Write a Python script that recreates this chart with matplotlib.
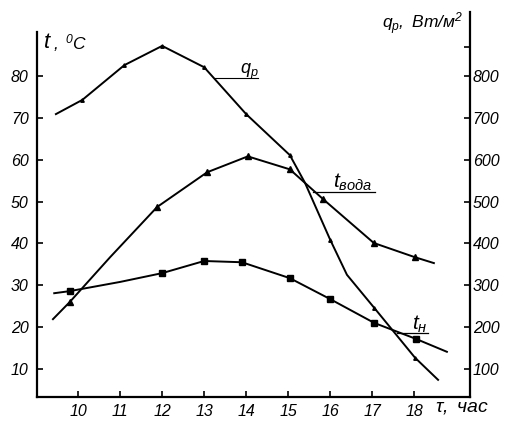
import matplotlib
matplotlib.use("Agg")
import matplotlib.pyplot as plt

plt.rcParams['font.family'] = ['Liberation Sans', 'DejaVu Sans']
plt.rcParams['mathtext.fontset'] = 'custom'
plt.rcParams['mathtext.it'] = 'Liberation Sans:italic'
plt.rcParams['mathtext.rm'] = 'Liberation Sans:italic'

# q_p, Вт/м2 (правая ось)
q_x = [9.47, 10.1, 11.1, 12.0, 13.0, 14.0, 15.04, 15.4, 16.0, 16.4, 17.05, 18.02, 18.57]
q_y = [709, 743, 826, 872, 821, 709, 611, 545, 409, 325, 246, 127, 74]
q_marks = [1, 2, 3, 4, 5, 6, 8, 10, 11]

# t вода, C
tv_x = [9.4, 9.8, 10.76, 11.88, 13.07, 14.04, 15.04, 15.83, 17.04, 18.02, 18.47]
tv_y = [21.9, 26.0, 36.7, 48.7, 57.0, 60.8, 57.7, 50.6, 40.1, 36.7, 35.3]
tv_marks = [1, 3, 4, 5, 6, 7, 8, 9]

# t н, C
tn_x = [9.43, 9.8, 11.0, 12.0, 13.0, 13.9, 15.04, 16.0, 17.05, 18.04, 18.78]
tn_y = [28.1, 28.6, 30.8, 32.9, 35.8, 35.5, 31.7, 26.7, 21.0, 17.2, 14.1]
tn_marks = [1, 3, 4, 5, 6, 7, 8, 9]

x_ticks = [10, 11, 12, 13, 14, 15, 16, 17, 18]
t_ticks = [10, 20, 30, 40, 50, 60, 70, 80]
q_ticks = [100, 200, 300, 400, 500, 600, 700, 800]

fig = plt.figure(figsize=(5.07, 4.21), dpi=100)
ax = fig.add_axes([37 / 507, 1 - 397 / 421, (470 - 37) / 507, (397 - 12) / 421])
ax2 = ax.twinx()

ax.set_xlim(9.02, 19.33)
ax.set_ylim(3.3, 95.3)
ax2.set_ylim(33, 953)

ax.plot(tv_x, tv_y, color='black', lw=1.4, marker='^', ms=4.5, markevery=tv_marks)
ax.plot(tn_x, tn_y, color='black', lw=1.4, marker='s', ms=4.5, markevery=tn_marks)
ax2.plot(q_x, q_y, color='black', lw=1.4, marker='^', ms=2.5, markevery=q_marks)

for a in (ax, ax2):
    a.spines['top'].set_visible(False)
ax.spines['right'].set_visible(False)
ax2.spines['left'].set_visible(False)
ax2.spines['bottom'].set_visible(False)
ax.spines['left'].set_bounds(3.3, 90.5)
for s in ('left', 'bottom'):
    ax.spines[s].set_linewidth(1.6)
ax2.spines['right'].set_linewidth(1.6)

ax.set_xticks(x_ticks)
ax.set_yticks(t_ticks)
ax2.set_yticks(q_ticks + [870], labels=[str(v) for v in q_ticks] + [''])
ax.tick_params(axis='x', direction='in', length=4, width=1.2, pad=5, labelsize=11.5)
ax.tick_params(axis='y', direction='in', length=4, width=1.2, pad=6, labelsize=11.5)
ax2.tick_params(axis='y', direction='in', length=4, width=1.2, pad=2, labelsize=11.5)
for lab in ax.get_xticklabels() + ax.get_yticklabels() + ax2.get_yticklabels():
    lab.set_fontstyle('italic')

# подписи осей
fig.text(43 / 507, 1 - 42 / 421, r'$t$', fontsize=16, va='center', ha='left')
fig.text(53 / 507, 1 - 43 / 421, r'$,\ ^{0}C$', fontsize=12.5, va='center', ha='left')
fig.text(464 / 507, 1 - 24 / 421, r'$q_p,\ Вт/м^2$', fontsize=12.5, va='center', ha='right')
fig.text(435 / 507, 1 - 407 / 421, r'$\tau,\ час$', fontsize=14, va='center', ha='left')

# подписи кривых
ax.text(13.85, 80.4, r'$q_p$', fontsize=13, ha='left', va='baseline')
ax.plot([13.26, 14.28], [79.5, 79.5], color='black', lw=0.8)
ax.text(16.07, 53.2, r'$t_{вода}$', fontsize=15, ha='left', va='baseline')
ax.plot([15.59, 17.07], [52.2, 52.2], color='black', lw=0.9)
ax.text(17.95, 19.4, r'$t_н$', fontsize=15, ha='left', va='baseline')
ax.plot([17.59, 18.33], [18.6, 18.6], color='black', lw=0.9)

fig.savefig('out.png', dpi=100)
